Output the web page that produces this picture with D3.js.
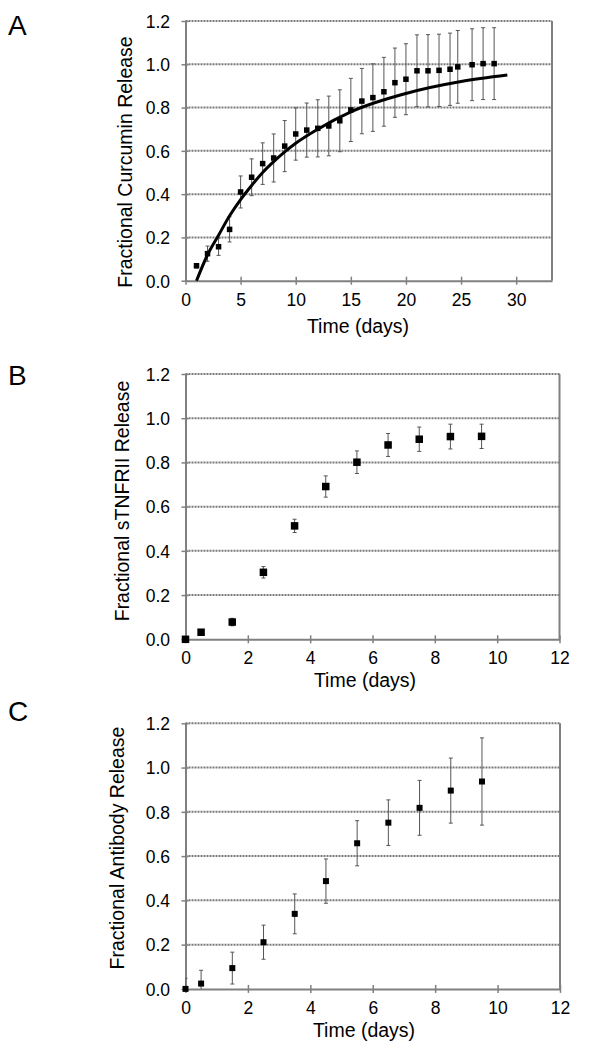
<!DOCTYPE html>
<html><head><meta charset="utf-8">
<script src="https://cdn.jsdelivr.net/npm/d3@7"></script>
<style>html,body{margin:0;padding:0;background:#fff;} svg{display:block;font-family:"Liberation Sans",Arial,sans-serif;}</style>
</head><body>
<svg id="c" width="592" height="1050"></svg>
<script>
// ---- Data ----
const daysA = [1,2,3,4,5,6,7,8,9,10,11,12,13,14,15,16,17,18,19,20,21,22,23,24,24.7,26,27,28];
const valsA = [0.069,0.125,0.157,0.237,0.41,0.478,0.541,0.567,0.622,0.678,0.696,0.704,0.715,0.739,0.789,0.830,0.846,0.873,0.915,0.931,0.970,0.970,0.972,0.977,0.988,0.998,1.003,1.003];
const errA  = [0.01,0.035,0.04,0.058,0.074,0.085,0.096,0.111,0.118,0.121,0.125,0.132,0.138,0.143,0.146,0.151,0.156,0.159,0.160,0.164,0.166,0.167,0.167,0.167,0.168,0.166,0.166,0.166];
const fitDaysA = [1,2,3,4,5,6,7,8,9,10,12,15,20,25,29.2];
const fitValsA = [0,0.12,0.21,0.30,0.375,0.44,0.50,0.55,0.595,0.635,0.70,0.78,0.865,0.92,0.95];

const daysBC = [0,0.5,1.5,2.5,3.5,4.5,5.5,6.5,7.5,8.5,9.5];
const valsB = [0,0.032,0.078,0.303,0.513,0.691,0.801,0.879,0.905,0.917,0.918];
const errB  = [0.005,0.008,0.017,0.026,0.03,0.048,0.051,0.052,0.055,0.056,0.055];
const valsC = [0,0.024,0.094,0.211,0.339,0.487,0.658,0.751,0.818,0.896,0.937];
const errC  = [0.048,0.06,0.072,0.077,0.09,0.1,0.102,0.103,0.124,0.147,0.197];

const yTicks = [0,0.2,0.4,0.6,0.8,1.0,1.2];
const xTicksA = [0,5,10,15,20,25,30];
const xTicksBC = [0,2,4,6,8,10,12];

const svg = d3.select("#c");
const GRID = "#7a7a7a", AXIS = "#808080";

function panel(o){
  const x = d3.scaleLinear().domain(o.xDomain).range([o.left, o.right]);
  const y = d3.scaleLinear().domain([0,1.2]).range([o.bottom, o.top]);
  const g = svg.append("g");
  const id = "clip"+o.letter;
  svg.append("clipPath").attr("id",id).append("rect")
    .attr("x",o.left).attr("y",o.top-10).attr("width",o.right-o.left).attr("height",o.bottom-o.top+10);
  // gridlines
  g.selectAll(".grid").data(yTicks.filter(v=>v>0)).enter().append("line")
    .attr("x1",o.left).attr("x2",o.right).attr("y1",d=>y(d)).attr("y2",d=>y(d))
    .attr("stroke",GRID).attr("stroke-width",2).attr("stroke-dasharray","2,1");
  // right border
  g.append("line").attr("x1",o.right).attr("x2",o.right).attr("y1",o.top).attr("y2",o.bottom)
    .attr("stroke",AXIS).attr("stroke-width",2);
  // y axis
  const ya = d3.axisLeft(y).tickValues(yTicks).tickFormat(d3.format(".1f")).tickSizeInner(0).tickSizeOuter(0).tickPadding(0);
  const yg = g.append("g").attr("transform",`translate(${o.left},0)`).call(ya);
  yg.select(".domain").attr("stroke",AXIS).attr("stroke-width",2);
  yg.selectAll(".tick line").remove();
  yg.selectAll(".tick").append("line").attr("x1",-4).attr("x2",3).attr("stroke",AXIS).attr("stroke-width",1.5);
  yg.selectAll(".tick text").attr("x",170-o.left).attr("dy","0.36em").attr("text-anchor","end")
    .attr("font-size",17.5).attr("fill","#000").attr("font-family","Liberation Sans, Arial, sans-serif");
  // x axis
  const xa = d3.axisBottom(x).tickValues(o.xTicks).tickFormat(d3.format("d")).tickSizeInner(0).tickSizeOuter(0).tickPadding(0);
  const xg = g.append("g").attr("transform",`translate(0,${o.bottom})`).call(xa);
  xg.select(".domain").attr("stroke",AXIS).attr("stroke-width",2);
  xg.selectAll(".tick line").remove();
  xg.selectAll(".tick").append("line").attr("y1",-4).attr("y2",4).attr("stroke",AXIS).attr("stroke-width",1.5);
  xg.selectAll(".tick text").attr("y",25).attr("dy",0)
    .attr("font-size",17.5).attr("fill","#000").attr("font-family","Liberation Sans, Arial, sans-serif");
  // titles
  g.append("text").attr("x",o.xTitleX).attr("y",o.xTitleY).attr("text-anchor","middle")
    .attr("font-size",19.5).text("Time (days)");
  g.append("text").attr("transform",`translate(${o.yTitleX},${o.yTitleY}) rotate(-90)`)
    .attr("text-anchor","middle").attr("font-size",19.5).text(o.yTitle);
  g.append("text").attr("x",8).attr("y",o.letterY).attr("font-size",28).text(o.letter);

  const pts = o.days.map((d,i)=>({x:d, v:o.vals[i], e:o.errs[i]}));
  const dg = g.append("g").attr("clip-path",`url(#${id})`);
  // error bars
  const eb = dg.selectAll(".eb").data(pts).enter().append("g");
  eb.append("line").attr("x1",d=>x(d.x)).attr("x2",d=>x(d.x)).attr("y1",d=>y(d.v-d.e)).attr("y2",d=>y(d.v+d.e))
    .attr("stroke","#555").attr("stroke-width",1);
  [1,-1].forEach(s=>{
    eb.append("line").attr("x1",d=>x(d.x)-2).attr("x2",d=>x(d.x)+2)
      .attr("y1",d=>y(d.v+s*d.e)).attr("y2",d=>y(d.v+s*d.e)).attr("stroke","#555").attr("stroke-width",1);
  });
  // fit line
  if (o.fitX){
    const line = d3.line().x(d=>x(d[0])).y(d=>y(d[1])).curve(d3.curveMonotoneX);
    g.append("path").datum(o.fitX.map((d,i)=>[d,o.fitY[i]])).attr("d",line)
      .attr("fill","none").attr("stroke","#000").attr("stroke-width",3);
  }
  // markers
  const m = o.marker;
  g.selectAll(".mk").data(pts).enter().append("rect")
    .attr("x",d=>x(d.x)-m/2).attr("y",d=>y(d.v)-m/2).attr("width",m).attr("height",m).attr("fill","#000");
}

panel({letter:"A", letterY:35, left:185.5, right:552, top:21, bottom:280.7, xDomain:[0,33.25], xTicks:xTicksA,
  days:daysA, vals:valsA, errs:errA, fitX:fitDaysA, fitY:fitValsA, marker:5.5,
  xTitleX:358, xTitleY:333, yTitleX:132, yTitleY:162, yTitle:"Fractional Curcumin Release"});
panel({letter:"B", letterY:385, left:185.5, right:559.5, top:374, bottom:639.3, xDomain:[0,12], xTicks:xTicksBC,
  days:daysBC, vals:valsB, errs:errB, marker:7.5,
  xTitleX:365, xTitleY:687, yTitleX:129, yTitleY:501, yTitle:"Fractional sTNFRII Release"});
panel({letter:"C", letterY:721, left:185.5, right:560, top:723.3, bottom:988.9, xDomain:[0,12], xTicks:xTicksBC,
  days:daysBC, vals:valsC, errs:errC, marker:6,
  xTitleX:364, xTitleY:1036.5, yTitleX:124, yTitleY:848, yTitle:"Fractional Antibody Release"});
</script>
</body></html>
